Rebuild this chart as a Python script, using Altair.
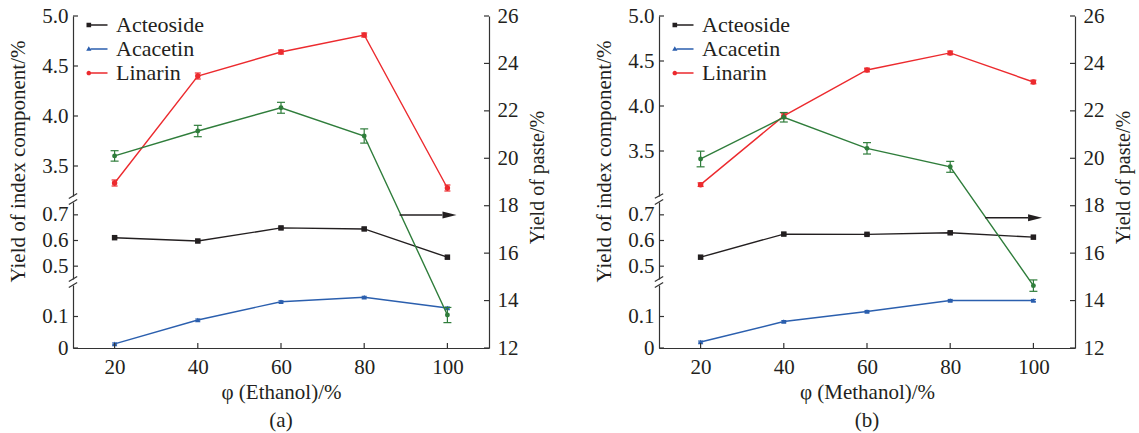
import altair as alt
import pandas as pd

# ---- data -------------------------------------------------------------
solvent_pct = [20, 40, 60, 80, 100]

# (a) ethanol extraction
eth_acteoside = [0.611, 0.598, 0.649, 0.645, 0.535]
eth_acteoside_err = [0.004, 0.004, 0.004, 0.004, 0.004]
eth_acacetin = [0.013, 0.089, 0.147, 0.161, 0.127]
eth_acacetin_err = [0.003, 0.003, 0.003, 0.003, 0.003]
eth_linarin = [3.33, 4.40, 4.64, 4.81, 3.28]
eth_linarin_err = [0.03, 0.03, 0.02, 0.02, 0.03]
eth_paste = [20.10, 21.15, 22.13, 20.94, 13.39]
eth_paste_err = [0.22, 0.24, 0.23, 0.30, 0.32]

# (b) methanol extraction
met_acteoside = [0.535, 0.625, 0.624, 0.630, 0.613]
met_acteoside_err = [0.004, 0.004, 0.004, 0.004, 0.004]
met_acacetin = [0.019, 0.084, 0.116, 0.151, 0.151]
met_acacetin_err = [0.003, 0.003, 0.003, 0.003, 0.003]
met_linarin = [3.126, 3.89, 4.40, 4.59, 4.267]
met_linarin_err = [0.02, 0.03, 0.02, 0.02, 0.02]
met_paste = [19.97, 21.73, 20.42, 19.64, 14.63]
met_paste_err = [0.33, 0.20, 0.24, 0.23, 0.24]

legend_names = ["Acteoside", "Acacetin", "Linarin"]

# axis tick values
top_ticks = [3.5, 4.0, 4.5, 5.0]
mid_ticks = [0.5, 0.6, 0.7]
bot_ticks = [0.0, 0.1]
paste_ticks = [12, 14, 16, 18, 20, 22, 24, 26]

# arrow pointing at the paste-yield axis: [x start, x end, head x, y]
eth_arrow = [88.5, 98.8, 100.5, 17.61]
met_arrow = [88.4, 98.7, 100.4, 17.49]

# ---- styling ------------------------------------------------------------
FONT = "Liberation Serif"
INK = "#231f20"
AXIS = "#333333"
BLACK = "#231f20"
BLUE = "#2b5fae"
RED = "#ec2a2e"
GREEN = "#2f7d3b"

W, H = 416, 332
X_DOMAIN = [10, 110]
TICK_X = 1.2      # inward tick length on the y axes, in x units (~5 px)

# legend glyphs: marker on the left, short line to the right
SQ = "M-1,-0.22H-0.56V0.22H-1Z M-0.6,-0.07H1V0.07H-0.6Z"
TRI = "M-0.78,-0.26L-0.53,0.17H-1.03Z M-0.62,-0.07H1V0.07H-0.62Z"
CIR = ("M-1,0A0.22,0.22,0,1,1,-0.56,0A0.22,0.22,0,1,1,-1,0Z "
       "M-0.6,-0.07H1V0.07H-0.6Z")
ARROW_HEAD = "M-1,-0.5L1,0L-1,0.5Z"


def frame(y, err):
    return pd.DataFrame({
        "x": solvent_pct,
        "v": y,
        "lo": [a - b for a, b in zip(y, err)],
        "hi": [a + b for a, b in zip(y, err)],
    })


def left_axis(values, title=None, label_expr="format(datum.value, '.1f')"):
    return alt.Axis(
        orient="left", values=values, title=title, labelExpr=label_expr,
        ticks=False, labelPadding=5, titleX=-55, titleY=145,
        titleBaseline="middle", titleAngle=270,
    )


def series(df, xenc, yscale, yaxis, color, shape, size, cap, extra=()):
    base = alt.Chart(df)

    def y(field):
        return alt.Y(f"{field}:Q", scale=yscale, axis=yaxis)

    line = base.mark_line(color=color, strokeWidth=1.4).encode(x=xenc, y=y("v"))
    bar = base.mark_rule(color=color, strokeWidth=1.2).encode(
        x=xenc, y=y("lo"), y2="hi:Q")
    cap_lo = base.mark_tick(color=color, orient="horizontal", size=cap,
                            thickness=1.2, opacity=1).encode(x=xenc, y=y("lo"))
    cap_hi = base.mark_tick(color=color, orient="horizontal", size=cap,
                            thickness=1.2, opacity=1).encode(x=xenc, y=y("hi"))
    pts = base.mark_point(shape=shape, filled=True, size=size, color=color,
                          opacity=1, strokeWidth=0).encode(x=xenc, y=y("v"))
    layers = [line, bar, cap_lo, cap_hi, pts]
    for make in extra:
        layers.append(make(y))
    return alt.layer(*layers)


def segment_rules(xenc, x0, x1, v0, v1, width=1.2):
    """Short rules drawn in a segment's own y scale (breaks and ticks)."""
    df = pd.DataFrame({"x": x0, "x1": x1, "b0": v0, "b1": v1})

    def make(y):
        return alt.Chart(df).mark_rule(color=AXIS, strokeWidth=width).encode(
            x=xenc, x2="x1:Q", y=y("b0"), y2="b1:Q")
    return make


def break_marks(xenc, values, dv):
    n = len(values)
    return segment_rules(xenc, [X_DOMAIN[0] - 1.0] * n, [X_DOMAIN[0] + 1.0] * n,
                         [v - dv for v in values], [v + dv for v in values], 1.2)


def left_ticks(xenc, values):
    n = len(values)
    return segment_rules(xenc, [X_DOMAIN[0]] * n, [X_DOMAIN[0] + TICK_X] * n,
                         values, values)


def panel(act, act_err, aca, aca_err, lin, lin_err, paste, paste_err,
          top_lo, arrow, solvent, tag):
    xenc = alt.X(
        "x:Q",
        scale=alt.Scale(domain=X_DOMAIN, nice=False, zero=False),
        axis=alt.Axis(values=solvent_pct, format="d", title=f"φ ({solvent})/%",
                      ticks=False, labelPadding=8, titlePadding=4),
    )

    # three stacked segments of the broken left axis
    top_scale = alt.Scale(domain=[top_lo, 5.0], range=[180, 0], nice=False, zero=False)
    mid_scale = alt.Scale(domain=[0.45, 0.75], range=[263, 186], nice=False, zero=False)
    bot_scale = alt.Scale(domain=[0.0, 0.2], range=[332, 269], nice=False, zero=False)
    paste_scale = alt.Scale(domain=[12, 26], range=[332, 0], nice=False, zero=False)

    top_axis = left_axis(top_ticks, title="Yield of index component/%")
    mid_axis = left_axis(mid_ticks)
    bot_axis = left_axis(bot_ticks,
                         label_expr="datum.value == 0 ? '0' : format(datum.value, '.1f')")
    paste_axis = alt.Axis(
        orient="right", values=paste_ticks, title="Yield of paste/%",
        ticks=False, labelPadding=8, titleX=48, titleY=161, titleAngle=270,
        titleBaseline="middle", titleFontSize=20,
    )

    legend = alt.Legend(
        orient="none", legendX=13, legendY=-2, title=None, padding=0,
        labelFont=FONT, labelFontSize=22, labelColor=INK, labelOffset=8,
        symbolSize=441, symbolStrokeWidth=0, rowPadding=2,
    )

    def legend_layer(y):
        df = pd.DataFrame({"name": legend_names, "x": [0, 0, 0], "v": [0, 0, 0]})
        return alt.Chart(df).transform_filter("false").mark_point(
            filled=True, opacity=1, size=441
        ).encode(
            x=xenc, y=y("v"),
            color=alt.Color("name:N", legend=legend,
                            scale=alt.Scale(domain=legend_names, range=[BLACK, BLUE, RED])),
            shape=alt.Shape("name:N", legend=legend,
                            scale=alt.Scale(domain=legend_names, range=[SQ, TRI, CIR])),
        )

    def arrow_layer(y):
        df = pd.DataFrame({"x": [arrow[0]], "x1": [arrow[1]], "v": [arrow[3]]})
        return alt.Chart(df).mark_rule(color=INK, strokeWidth=1.4).encode(
            x=xenc, x2="x1:Q", y=y("v"))

    def arrow_head(y):
        df = pd.DataFrame({"x": [arrow[2]], "v": [arrow[3]]})
        return alt.Chart(df).mark_point(shape=ARROW_HEAD, filled=True, size=196,
                                        color=INK, opacity=1, strokeWidth=0).encode(
            x=xenc, y=y("v"))

    n_x = len(solvent_pct)
    n_p = len(paste_ticks)
    x_ticks = segment_rules(xenc, solvent_pct, solvent_pct, [0.0] * n_x, [0.016] * n_x)
    right_ticks = segment_rules(xenc, [X_DOMAIN[1] - TICK_X] * n_p, [X_DOMAIN[1]] * n_p,
                                paste_ticks, paste_ticks)

    top = series(frame(lin, lin_err), xenc, top_scale, top_axis, RED, "circle", 30, 6,
                 extra=[legend_layer, break_marks(xenc, [top_lo], 0.025),
                        left_ticks(xenc, top_ticks)])
    mid = series(frame(act, act_err), xenc, mid_scale, mid_axis, BLACK, "square", 30, 5,
                 extra=[break_marks(xenc, [0.75, 0.45], 0.01),
                        left_ticks(xenc, mid_ticks)])
    bot = series(frame(aca, aca_err), xenc, bot_scale, bot_axis, BLUE, "triangle-up", 28, 5,
                 extra=[break_marks(xenc, [0.2], 0.008),
                        left_ticks(xenc, bot_ticks), x_ticks])
    pst = series(frame(paste, paste_err), xenc, paste_scale, paste_axis, GREEN, "circle", 24, 8,
                 extra=[arrow_layer, arrow_head, right_ticks])

    return alt.layer(top, mid, bot, pst).resolve_scale(y="independent").properties(
        width=W, height=H,
        title=alt.TitleParams(tag, orient="bottom", font=FONT, fontSize=21,
                              fontWeight="normal", color=INK, offset=8),
    )


chart_a = panel(eth_acteoside, eth_acteoside_err, eth_acacetin, eth_acacetin_err,
                eth_linarin, eth_linarin_err, eth_paste, eth_paste_err,
                3.2, eth_arrow, "Ethanol", "(a)")
chart_b = panel(met_acteoside, met_acteoside_err, met_acacetin, met_acacetin_err,
                met_linarin, met_linarin_err, met_paste, met_paste_err,
                3.0, met_arrow, "Methanol", "(b)")

chart = alt.hconcat(chart_a, chart_b, spacing=46).resolve_scale(
    color="independent", shape="independent"
).resolve_legend(
    color="independent", shape="independent"
).properties(
    padding={"left": 7, "top": 5, "right": 5, "bottom": 5},
    background="white",
).configure_view(stroke=None).configure_axis(
    grid=False, labelFont=FONT, titleFont=FONT, labelFontSize=21, titleFontSize=21,
    titleFontWeight="normal", labelColor=INK, titleColor=INK,
    domainColor=AXIS, domainWidth=1.2,
)

chart.save("out.html", embed_options={"renderer": "svg", "actions": False})
